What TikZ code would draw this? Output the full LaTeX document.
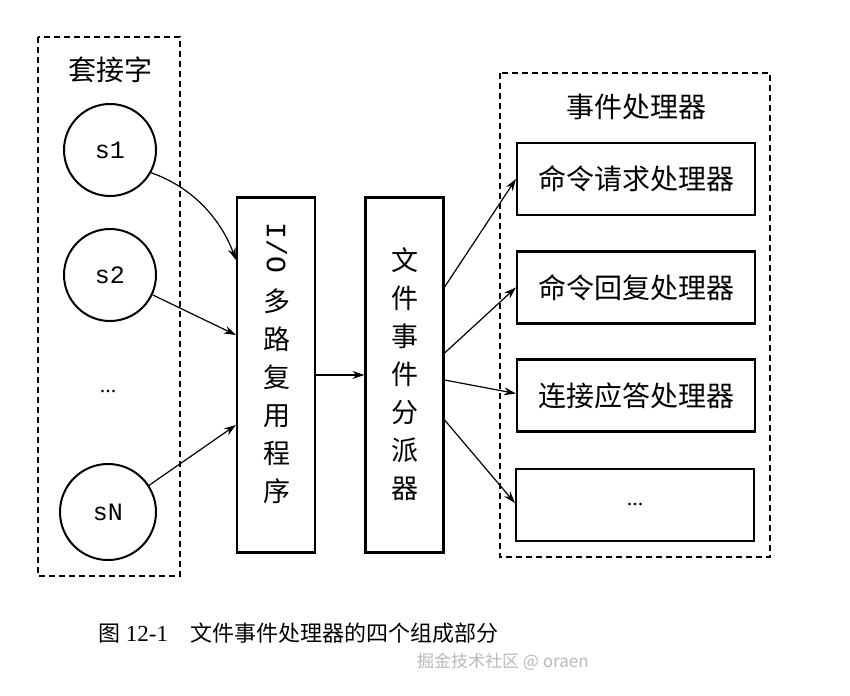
\documentclass[tikz,border=0pt]{standalone}
\usepackage{fontspec}
\setmainfont{Liberation Serif}
\setmonofont{Liberation Mono}
\newfontfamily\cjk{Noto Sans CJK SC}
\usetikzlibrary{arrows.meta,calc}
\tikzset{
  group/.style={draw, line width=2.1pt, dash pattern=on 6pt off 4pt},
  sock/.style={draw, circle, line width=2pt, minimum size=92pt, inner sep=0pt, font=\ttfamily\fontsize{25}{28}\selectfont},
  tall/.style={draw, line width=2.2pt, minimum width=78pt, minimum height=355pt, inner sep=0pt},
  handler/.style={draw, line width=2.2pt, minimum width=238pt, minimum height=72pt, inner sep=0pt, font=\cjk\fontsize{28}{32}\selectfont},
  lbl/.style={font=\cjk\fontsize{28}{32}\selectfont, inner sep=0pt},
  conn/.style={line width=1.2pt, -{Stealth[length=12pt,width=8pt]}},
}
\begin{document}
\begin{tikzpicture}[x=1pt,y=-1pt]
\useasboundingbox (0,0) rectangle (850,695);
% groups
\draw[group] (38,37) rectangle (180,576);
\draw[group] (500,73) rectangle (770,557);
\node[lbl] (socklbl) at (110,70) {套接字};
\node[lbl] (hlbl) at (636,107) {事件处理器};
% sockets
\node[sock] (s1) at (110,150) {s1};
\node[sock] (s2) at (110,275) {s2};
\node[font=\fontsize{22}{24}\selectfont, inner sep=0pt] (sdots) at (108,392) {...};
\node[sock, minimum size=96pt] (sN) at (108,512) {sN};
% IO multiplexer
\node[tall] (io) at (276,375) {};
\node[font=\ttfamily\fontsize{28}{30}\selectfont, rotate=-90, inner sep=0pt] (iotxt) at (277,248) {I/O};
\node[align=center, font=\cjk\fontsize{27}{38}\selectfont, inner sep=0pt] (iochars) at (277,396) {多\\路\\复\\用\\程\\序};
% dispatcher
\node[tall] (disp) at (404.5,375) {};
\node[align=center, font=\cjk\fontsize{27}{38}\selectfont, inner sep=0pt] (disptxt) at (405,374) {文\\件\\事\\件\\分\\派\\器};
% handlers
\node[handler] (h1) at (636,179) {命令请求处理器};
\node[handler] (h2) at (636,287.5) {命令回复处理器};
\node[handler] (h3) at (636,395.5) {连接应答处理器};
\node[handler, font=\fontsize{22}{24}\selectfont] (h4) at (635,505) {...};
% connectors
\draw[conn] (s1.-29) .. controls (195,188) and (222,222) .. ([yshift=115pt]io.west);
\draw[conn] (s2.-25) -- ([yshift=40pt]io.west);
\draw[conn] (sN.33) -- ([yshift=-50pt]io.west);
\draw[conn] (io.east) -- (disp.west);
\draw[conn] ([yshift=88pt]disp.east) -- (h1.west);
\draw[conn] ([yshift=22pt]disp.east) -- (h2.west);
\draw[conn] ([yshift=-5pt]disp.east) -- ([yshift=2pt]h3.west);
\draw[conn] ([yshift=-45pt]disp.east) -- ([yshift=2pt]h4.west);
% caption
\node[anchor=west, inner sep=0pt, font=\fontsize{23}{26}\selectfont] (cap) at (98,633) {{\cjk\fontsize{22}{26}\selectfont 图}~12-1\hspace{22pt}{\cjk\fontsize{22}{26}\selectfont 文件事件处理器的四个组成部分}};
\node[anchor=west, inner sep=0pt, text=gray!55, font=\cjk\fontsize{17}{20}\selectfont] (wm) at (417,662) {掘金技术社区 @ oraen};
\end{tikzpicture}
\end{document}
